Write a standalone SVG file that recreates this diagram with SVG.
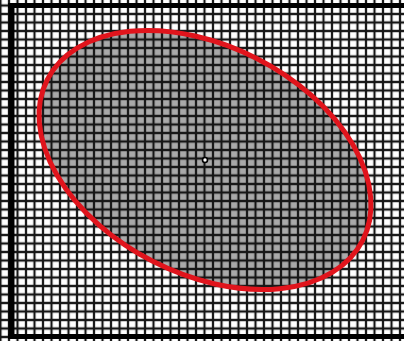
<svg xmlns="http://www.w3.org/2000/svg" width="404" height="341" viewBox="0 0 404 341">
  <defs>
    <pattern id="grid" x="9" y="5.5" width="8.5" height="8.5" patternUnits="userSpaceOnUse">
      <path d="M0 0 V8.5 M8.5 0 V8.5 M0 0 H8.5 M0 8.5 H8.5" stroke="#161616" stroke-width="2.2" fill="none"/>
    </pattern>
  </defs>
  <style>
    .border { stroke: #000; fill: none; }
    .shape { fill: #a9a9a9; }
    .outline { fill: none; stroke: #e0141c; stroke-width: 5; }
  </style>
  <rect width="404" height="341" fill="#ffffff"/>
  <g id="ellipse-fill">
    <ellipse class="shape" cx="205" cy="160" rx="177" ry="114" transform="rotate(27 205 160)"/>
  </g>
  <rect width="404" height="341" fill="url(#grid)"/>
  <g id="frame">
    <line class="border" x1="8" y1="5.5" x2="404" y2="5.5" stroke-width="5"/>
    <line class="border" x1="11.5" y1="3" x2="11.5" y2="339" stroke-width="6"/>
    <line class="border" x1="8" y1="336.5" x2="404" y2="336.5" stroke-width="5"/>
  </g>
  <g id="ellipse">
    <ellipse class="outline" cx="205" cy="160" rx="177" ry="114" transform="rotate(27 205 160)"/>
  </g>
  <g id="center">
    <circle cx="205" cy="160" r="2.5" fill="#fff" stroke="#000" stroke-width="1.6"/>
  </g>
</svg>
